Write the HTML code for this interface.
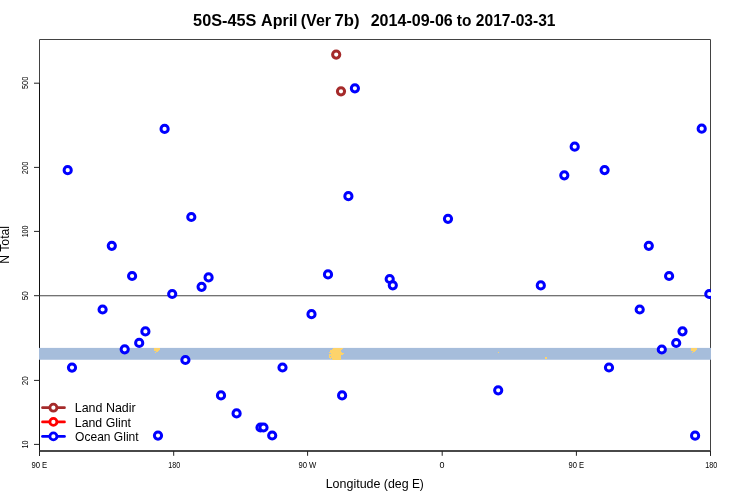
<!DOCTYPE html><html><head><meta charset="utf-8"><style>
html,body{margin:0;padding:0;background:#fff;width:750px;height:500px;overflow:hidden}
svg{display:block;will-change:transform}
text{font-family:"Liberation Sans",sans-serif}
</style></head><body>
<svg width="750" height="500" viewBox="0 0 750 500">
<defs><clipPath id="pc"><rect x="39" y="39" width="672" height="412"/></clipPath></defs>
<path d="M39.5 455.8V39.5H710.5V455.8" fill="none" stroke="#424242" stroke-width="1"/>
<line x1="39.5" y1="83.2" x2="39.5" y2="455.8" stroke="#111" stroke-width="1"/>
<line x1="39.5" y1="451" x2="710.5" y2="451" stroke="#484848" stroke-width="2"/>
<line x1="34" y1="444.4" x2="39.5" y2="444.4" stroke="#222" stroke-width="1"/>
<line x1="34" y1="380.4" x2="39.5" y2="380.4" stroke="#222" stroke-width="1"/>
<line x1="34" y1="295.7" x2="39.5" y2="295.7" stroke="#222" stroke-width="1"/>
<line x1="34" y1="231.4" x2="39.5" y2="231.4" stroke="#222" stroke-width="1"/>
<line x1="34" y1="167.4" x2="39.5" y2="167.4" stroke="#222" stroke-width="1"/>
<line x1="34" y1="83.2" x2="39.5" y2="83.2" stroke="#222" stroke-width="1"/>
<line x1="39.5" y1="451" x2="39.5" y2="455.8" stroke="#222" stroke-width="1"/>
<line x1="173.7" y1="451" x2="173.7" y2="455.8" stroke="#222" stroke-width="1"/>
<line x1="307.6" y1="451" x2="307.6" y2="455.8" stroke="#222" stroke-width="1"/>
<line x1="442.2" y1="451" x2="442.2" y2="455.8" stroke="#222" stroke-width="1"/>
<line x1="576.4" y1="451" x2="576.4" y2="455.8" stroke="#222" stroke-width="1"/>
<line x1="710.5" y1="451" x2="710.5" y2="455.8" stroke="#222" stroke-width="1"/>
<g clip-path="url(#pc)">
<rect x="39" y="347.9" width="672" height="11.85" fill="#a6bddb"/>
<line x1="39.5" y1="295.8" x2="711" y2="295.8" stroke="#444" stroke-width="1.1"/>
<path fill="#fdd36b" shape-rendering="crispEdges" d="M333 348H343V349H333ZM332 349H342V350H332ZM330 350H341V351H330ZM330 351H341V352H330ZM329 352H342V353H329ZM331 353H344V354H331ZM329 354H343V355H329ZM329 355H341V356H329ZM329 357H341V358H329ZM332 359H341V360H332ZM329 356H330V357H329ZM331 356H341V357H331ZM330 358H331V359H330ZM332 358H341V359H332ZM154 348H160V349H154ZM154 349H160V350H154ZM154 350H159V351H154ZM156 351H158V352H156ZM155 352H156V353H155ZM691 348H697V349H691ZM691 349H697V350H691ZM691 350H696V351H691ZM693 351H695V352H693ZM692 352H693V353H692ZM498 352H499V353H498ZM545 357H547V359H545Z"/>
<g fill="#fff" stroke="#0000ff" stroke-width="3.0">
<circle cx="67.7" cy="170.2" r="3.6"/>
<circle cx="72" cy="367.6" r="3.6"/>
<circle cx="102.6" cy="309.5" r="3.6"/>
<circle cx="111.8" cy="245.8" r="3.6"/>
<circle cx="124.7" cy="349.3" r="3.6"/>
<circle cx="132.1" cy="276" r="3.6"/>
<circle cx="139.2" cy="342.9" r="3.6"/>
<circle cx="145.4" cy="331.4" r="3.6"/>
<circle cx="158" cy="435.6" r="3.6"/>
<circle cx="164.6" cy="128.9" r="3.6"/>
<circle cx="172.2" cy="294" r="3.6"/>
<circle cx="185.4" cy="360" r="3.6"/>
<circle cx="191.3" cy="217" r="3.6"/>
<circle cx="201.6" cy="286.8" r="3.6"/>
<circle cx="208.6" cy="277.4" r="3.6"/>
<circle cx="221" cy="395.4" r="3.6"/>
<circle cx="236.6" cy="413.4" r="3.6"/>
<circle cx="260.5" cy="427.5" r="3.6"/>
<circle cx="263.5" cy="427.5" r="3.6"/>
<circle cx="272.2" cy="435.5" r="3.6"/>
<circle cx="282.5" cy="367.5" r="3.6"/>
<circle cx="311.5" cy="314.2" r="3.6"/>
<circle cx="328" cy="274.4" r="3.6"/>
<circle cx="342.1" cy="395.4" r="3.6"/>
<circle cx="348.4" cy="196.2" r="3.6"/>
<circle cx="354.9" cy="88.3" r="3.6"/>
<circle cx="389.7" cy="279" r="3.6"/>
<circle cx="392.8" cy="285.3" r="3.6"/>
<circle cx="448" cy="218.8" r="3.6"/>
<circle cx="498.2" cy="390.3" r="3.6"/>
<circle cx="540.8" cy="285.4" r="3.6"/>
<circle cx="564.3" cy="175.3" r="3.6"/>
<circle cx="574.7" cy="146.7" r="3.6"/>
<circle cx="604.6" cy="170.1" r="3.6"/>
<circle cx="609" cy="367.5" r="3.6"/>
<circle cx="639.7" cy="309.5" r="3.6"/>
<circle cx="648.8" cy="245.8" r="3.6"/>
<circle cx="661.8" cy="349.5" r="3.6"/>
<circle cx="669.1" cy="276" r="3.6"/>
<circle cx="676.2" cy="343" r="3.6"/>
<circle cx="682.5" cy="331.3" r="3.6"/>
<circle cx="695.1" cy="435.7" r="3.6"/>
<circle cx="701.7" cy="128.7" r="3.6"/>
<circle cx="709.3" cy="294" r="3.6"/>
</g>
<g fill="#fff" stroke="#a52a2a" stroke-width="3.0">
<circle cx="336.2" cy="54.6" r="3.6"/>
<circle cx="341" cy="91.3" r="3.6"/>
</g></g>
<line x1="42.5" y1="407.7" x2="64.5" y2="407.7" stroke="#a52a2a" stroke-width="2.7" stroke-linecap="round"/>
<circle cx="53.4" cy="407.7" r="3.5" fill="#fff" stroke="#a52a2a" stroke-width="2.8"/>
<line x1="42.5" y1="421.9" x2="64.5" y2="421.9" stroke="#ff0000" stroke-width="2.7" stroke-linecap="round"/>
<circle cx="53.4" cy="421.9" r="3.5" fill="#fff" stroke="#ff0000" stroke-width="2.8"/>
<line x1="42.5" y1="436.4" x2="64.5" y2="436.4" stroke="#0000ff" stroke-width="2.7" stroke-linecap="round"/>
<circle cx="53.4" cy="436.4" r="3.5" fill="#fff" stroke="#0000ff" stroke-width="2.8"/>
<text transform="matrix(1.0188,0,0,1.0000,193.091,25.700)" font-size="16" font-weight="bold">50S-45S</text>
<text transform="matrix(1.0014,0,0,1.0000,261.099,25.700)" font-size="16" font-weight="bold">April</text>
<text transform="matrix(1.0051,0,0,1.0000,300.746,25.700)" font-size="16" font-weight="bold">(Ver</text>
<text transform="matrix(1.0444,0,0,1.0000,334.517,25.700)" font-size="16" font-weight="bold">7b)</text>
<text transform="matrix(1.0043,0,0,1.0000,370.698,25.700)" font-size="16" font-weight="bold">2014-09-06</text>
<text transform="matrix(0.9684,0,0,1.0000,456.858,25.700)" font-size="16" font-weight="bold">to</text>
<text transform="matrix(0.9741,0,0,1.0000,475.813,25.700)" font-size="16" font-weight="bold">2017-03-31</text>
<text transform="matrix(1.0400,0,0,1.0000,325.660,488.000)" font-size="12" font-weight="normal">Longitude</text>
<text transform="matrix(1.0356,0,0,1.0000,383.823,488.000)" font-size="12" font-weight="normal">(deg</text>
<text transform="matrix(0.9951,0,0,1.0000,411.905,488.000)" font-size="12" font-weight="normal">E)</text>
<text transform="matrix(0,-1.0213,1.0057,0,8.900,263.821)" font-size="12" font-weight="normal">N Total</text>
<text transform="matrix(1.0383,0,0,0.9943,74.762,411.900)" font-size="12" font-weight="normal">Land Nadir</text>
<text transform="matrix(1.0288,0,0,1.0171,74.771,426.600)" font-size="12" font-weight="normal">Land Glint</text>
<text transform="matrix(1.0040,0,0,0.9943,75.098,440.700)" font-size="12" font-weight="normal">Ocean Glint</text>
<text transform="matrix(0.9651,0,0,1.1091,31.417,468.000)" font-size="8" font-weight="normal">90 E</text>
<text transform="matrix(0.8880,0,0,1.0727,168.256,468.000)" font-size="8" font-weight="normal">180</text>
<text transform="matrix(0.9644,0,0,1.0727,298.418,468.000)" font-size="8" font-weight="normal">90 W</text>
<text transform="matrix(1.1250,0,0,1.0727,439.619,468.000)" font-size="8" font-weight="normal">0</text>
<text transform="matrix(0.9524,0,0,1.0727,568.524,468.000)" font-size="8" font-weight="normal">90 E</text>
<text transform="matrix(0.8960,0,0,1.0545,705.352,468.000)" font-size="8" font-weight="normal">180</text>
<text transform="matrix(0,-0.9360,1.0909,0,27.900,89.068)" font-size="8" font-weight="normal">500</text>
<text transform="matrix(0,-0.9360,1.0909,0,27.900,174.168)" font-size="8" font-weight="normal">200</text>
<text transform="matrix(0,-0.8880,1.0909,0,27.900,237.344)" font-size="8" font-weight="normal">100</text>
<text transform="matrix(0,-1.0125,1.0909,0,27.900,300.306)" font-size="8" font-weight="normal">50</text>
<text transform="matrix(0,-1.0125,1.0909,0,27.900,385.306)" font-size="8" font-weight="normal">20</text>
<text transform="matrix(0,-0.9000,1.0909,0,27.900,448.450)" font-size="8" font-weight="normal">10</text>
</svg></body></html>
